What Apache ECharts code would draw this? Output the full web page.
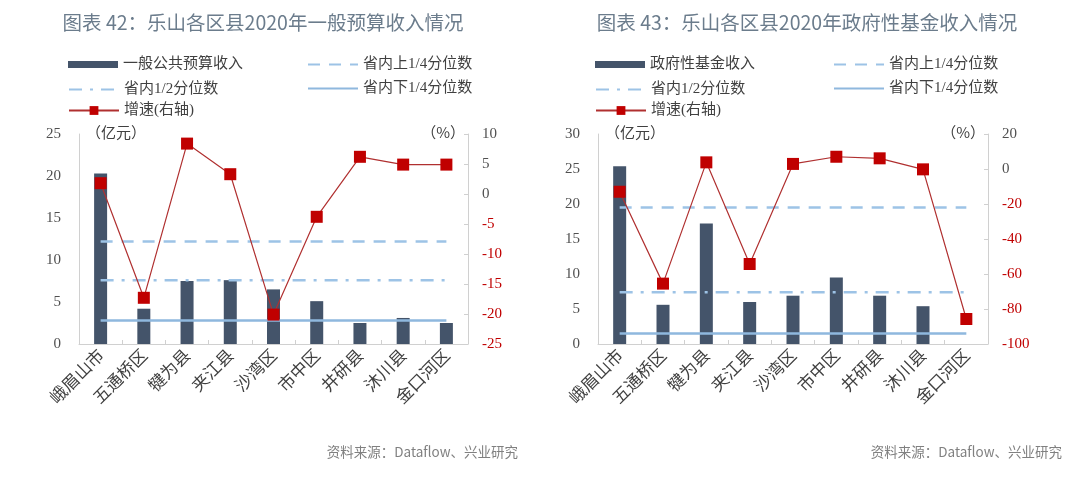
<!DOCTYPE html>
<html><head><meta charset="utf-8">
<script src="https://cdn.jsdelivr.net/npm/echarts@6/dist/echarts.min.js"></script>
<style>html,body{margin:0;padding:0;background:#fff;}#wrap{width:1080px;height:479px;display:flex;}#c1,#c2{width:540px;height:479px;}</style>
</head><body><div id="wrap"><div id="c1"></div><div id="c2"></div></div>
<script>
const categories = ['峨眉山市','五通桥区','犍为县','夹江县','沙湾区','市中区','井研县','沐川县','金口河区'];
// Chart 42: general budget revenue (亿元) and growth (%)
const revenueA = [20.3, 4.2, 7.5, 7.6, 6.5, 5.1, 2.5, 3.1, 2.5];
const growthA = [1.8, -17.3, 8.4, 3.3, -20.1, -3.8, 6.2, 4.9, 4.9];
const upperQA = 12.2, medianQA = 7.6, lowerQA = 2.8;
const leftTicksA = [0, 25, 5];
const rightTicksA = [-25, 10, 5];
// Chart 43: government fund revenue (亿元) and growth (%)
const revenueB = [25.4, 5.6, 17.2, 6.0, 6.9, 9.5, 6.9, 5.4, 0];
const growthB = [-13.0, -65.5, 3.8, -54.3, 2.9, 7.0, 6.1, -0.2, -85.7];
const upperQB = 19.5, medianQB = 7.4, lowerQB = 1.5;
const leftTicksB = [0, 30, 5];
const rightTicksB = [-100, 20, 20];

const FONT = '"Liberation Serif","Noto Sans CJK SC",serif';
const SANS = '"Noto Sans CJK SC","Open Sans",sans-serif';
const QCOL = '#9dc3e6';

function makeOption(c) {
  const names = [c.barName, '省内上1/4分位数', '省内1/2分位数', '省内下1/4分位数', '增速(右轴)'];
  const legTxt = {color:'#404040', fontSize:15, fontFamily:FONT};
  const qLine = (name, val, type, col) => ({name:name, type:'line', data:categories.map(()=>val),
    symbol:'circle', showSymbol:false, z:3, silent:true,
    lineStyle:{color:col, width:2.5, type:type}, itemStyle:{color:'rgba(0,0,0,0)'}});
  return {
    animation:false,
    title:{text:c.title, left:c.titleX, top:8, textAlign:'center',
      textStyle:{color:'#6b7c8c', fontSize:19.5, fontWeight:'normal', fontFamily:SANS}},
    legend:[
      {data:[names[0]], left:c.leg1X, top:57, padding:0, itemWidth:50, itemHeight:7, textStyle:legTxt, icon:'rect'},
      {data:[names[2], names[4]], orient:'vertical', left:c.leg1X, top:82, padding:0, itemWidth:50, itemHeight:11, itemGap:6, textStyle:legTxt},
      {data:[names[1], names[3]], orient:'vertical', left:c.leg2X, top:57, padding:0, itemWidth:50, itemHeight:11, itemGap:9, textStyle:legTxt}
    ],
    grid:{left:c.gl, right:c.gr, top:134, bottom:135},
    xAxis:{type:'category', data:categories, boundaryGap:true,
      axisLine:{lineStyle:{color:'#d0d0d0'}},
      axisTick:{show:true, inside:true, length:4, lineStyle:{color:'#d0d0d0'}},
      axisLabel:{rotate:45, fontSize:17, color:'#404040', fontFamily:SANS, margin:8, interval:0}},
    yAxis:[
      {type:'value', min:c.lt[0], max:c.lt[1], interval:c.lt[2], splitLine:{show:false},
        axisLine:{show:true, lineStyle:{color:'#d0d0d0'}}, axisTick:{show:false},
        axisLabel:{fontSize:15, color:'#505050', fontFamily:FONT, margin:18}},
      {type:'value', min:c.rt[0], max:c.rt[1], interval:c.rt[2], splitLine:{show:false},
        axisLine:{show:true, lineStyle:{color:'#d0d0d0'}},
        axisTick:{show:true, inside:true, length:4, lineStyle:{color:'#d0d0d0'}},
        axisLabel:{fontSize:15, fontFamily:FONT, margin:14,
          formatter:v => v < 0 ? '{n|' + v + '}' : '{p|' + v + '}',
          rich:{n:{color:'#c00000', fontSize:15, fontFamily:FONT}, p:{color:'#505050', fontSize:15, fontFamily:FONT}}}}
    ],
    graphic:[
      {type:'text', left:c.gl+7, top:125, style:{text:'（亿元）', fontSize:15, fill:'#404040', fontFamily:SANS}},
      {type:'text', right:c.gr+3, top:125, style:{text:'（%）', fontSize:15, fill:'#404040', fontFamily:SANS}},
      {type:'text', right:c.srcR, top:445, style:{text:'资料来源：Dataflow、兴业研究', fontSize:13.5, fill:'#808080', fontFamily:SANS}}
    ],
    series:[
      {name:names[0], type:'bar', data:c.bars, barWidth:13, itemStyle:{color:'#44546a'}, z:2},
      qLine(names[1], c.uq, [12,9], QCOL),
      qLine(names[2], c.mq, [13,8,3,8], QCOL),
      qLine(names[3], c.lq, 'solid', '#8fb8de'),
      {name:names[4], type:'line', yAxisIndex:1, data:c.growth, symbol:'rect', symbolSize:12, z:5,
        lineStyle:{color:'#b03030', width:1.2}, itemStyle:{color:'#c00000'}}
    ]
  };
}

const c1 = echarts.init(document.getElementById('c1'), null, {renderer:'canvas'});
c1.setOption(makeOption({title:'图表 42：乐山各区县2020年一般预算收入情况', barName:'一般公共预算收入', titleX:258,
  leg1X:68, leg2X:307, gl:79, gr:72, lt:leftTicksA, rt:rightTicksA, bars:revenueA, growth:growthA,
  uq:upperQA, mq:medianQA, lq:lowerQA, srcR:22}));
const c2 = echarts.init(document.getElementById('c2'), null, {renderer:'canvas'});
c2.setOption(makeOption({title:'图表 43：乐山各区县2020年政府性基金收入情况', barName:'政府性基金收入', titleX:262,
  leg1X:55, leg2X:293, gl:58, gr:92, lt:leftTicksB, rt:rightTicksB, bars:revenueB, growth:growthB,
  uq:upperQB, mq:medianQB, lq:lowerQB, srcR:18}));
</script></body></html>
